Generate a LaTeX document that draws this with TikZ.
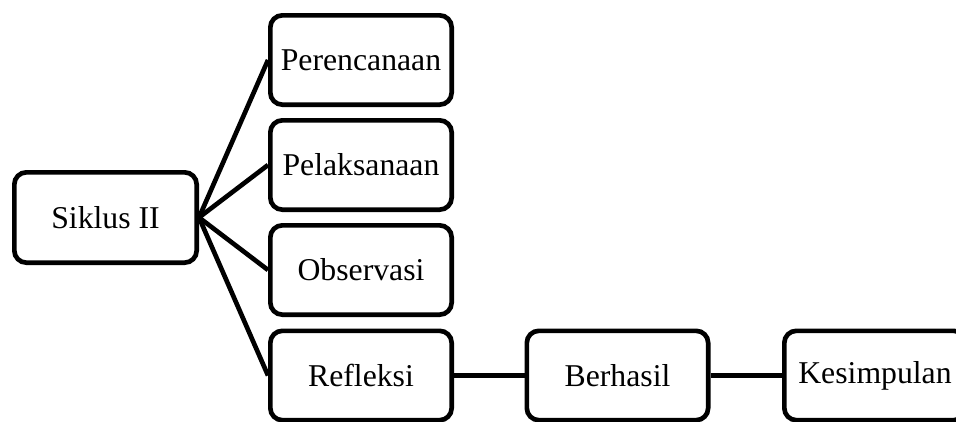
\documentclass[tikz,border=0pt]{standalone}
\usepackage{fontspec}
\setmainfont{Liberation Serif}
\begin{document}
\begin{tikzpicture}[x=0.75pt,y=-0.75pt,
  stagebox/.style={draw=black, line width=3.5pt, rounded corners=9pt, fill=white,
    minimum width=136pt, minimum height=67pt, inner sep=0pt,
    font=\fontsize{23.8}{28}\selectfont},
  link/.style={draw=black, line width=3.5pt}]
\useasboundingbox (0,0) rectangle (956,421);
\begin{scope}
\clip (0,0) rectangle (956,421);
% main cycle node
\node[stagebox, minimum width=136.75pt, minimum height=67.75pt] (siklus) at (105.5,217.5) {Siklus II};
% cycle stages
\node[stagebox] (rencana) at (361,60) {Perencanaan};
\node[stagebox] (laksana) at (361,165) {Pelaksanaan};
\node[stagebox] (obs) at (361,270) {Observasi};
\node[stagebox] (refl) at (361,375.5) {Refleksi};
% outcome chain
\node[stagebox] (hasil) at (617.5,375.5) {Berhasil};
\node[stagebox] (simpul) at (875,375.5) {Kesimpulan};
% connectors
\draw[link] (siklus.east) -- (rencana.west);
\draw[link] (siklus.east) -- (laksana.west);
\draw[link] (siklus.east) -- (obs.west);
\draw[link] (siklus.east) -- (refl.west);
\draw[link] (refl.east) -- (hasil.west);
\draw[link] (hasil.east) -- (simpul.west);
\end{scope}
\end{tikzpicture}
\end{document}
